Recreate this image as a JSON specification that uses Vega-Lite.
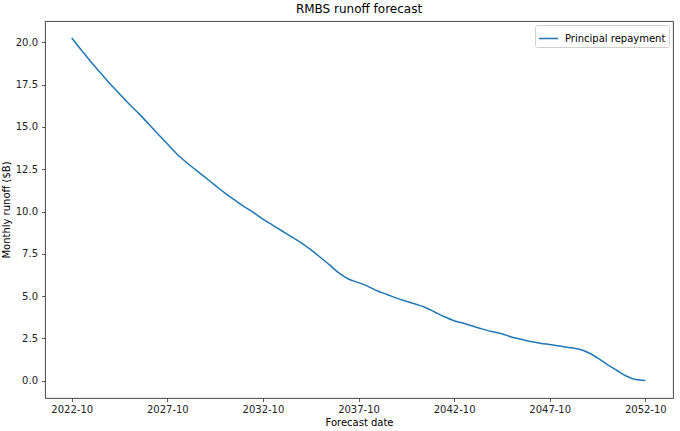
{
  "$schema": "https://vega.github.io/schema/vega-lite/v6.json",
  "width": 628,
  "height": 377,
  "autosize": {"type": "none"},
  "padding": {"left": 45, "top": 21, "right": 7, "bottom": 33},
  "background": "white",
  "title": {"text": "RMBS runoff forecast", "fontSize": 12, "fontWeight": "normal", "font": "DejaVu Sans", "color": "#000", "offset": 5},
  "config": {
    "view": {"stroke": "#333", "strokeWidth": 0.9},
    "axis": {
      "labelFont": "DejaVu Sans", "labelFontSize": 10, "labelColor": "#222",
      "titleFont": "DejaVu Sans", "titleFontSize": 10, "titleFontWeight": "normal", "titleColor": "#000",
      "grid": false, "domain": false, "tickColor": "#333", "tickWidth": 0.8, "tickSize": 3.5
    },
    "legend": {
      "labelFont": "DejaVu Sans", "labelFontSize": 10, "labelColor": "#000"
    }
  },
  "data": {
    "values": [
      {"date": "2022-10-01", "runoff": 20.25, "series": "Principal repayment"},
      {"date": "2023-04-01", "runoff": 19.55, "series": "Principal repayment"},
      {"date": "2023-10-01", "runoff": 18.85, "series": "Principal repayment"},
      {"date": "2024-04-01", "runoff": 18.2, "series": "Principal repayment"},
      {"date": "2024-10-01", "runoff": 17.55, "series": "Principal repayment"},
      {"date": "2025-04-01", "runoff": 16.95, "series": "Principal repayment"},
      {"date": "2025-10-01", "runoff": 16.35, "series": "Principal repayment"},
      {"date": "2026-04-01", "runoff": 15.8, "series": "Principal repayment"},
      {"date": "2026-10-01", "runoff": 15.2, "series": "Principal repayment"},
      {"date": "2027-04-01", "runoff": 14.6, "series": "Principal repayment"},
      {"date": "2027-10-01", "runoff": 14.0, "series": "Principal repayment"},
      {"date": "2028-04-01", "runoff": 13.4, "series": "Principal repayment"},
      {"date": "2028-10-01", "runoff": 12.9, "series": "Principal repayment"},
      {"date": "2029-04-01", "runoff": 12.45, "series": "Principal repayment"},
      {"date": "2029-10-01", "runoff": 12.0, "series": "Principal repayment"},
      {"date": "2030-04-01", "runoff": 11.55, "series": "Principal repayment"},
      {"date": "2030-10-01", "runoff": 11.1, "series": "Principal repayment"},
      {"date": "2031-04-01", "runoff": 10.7, "series": "Principal repayment"},
      {"date": "2031-10-01", "runoff": 10.3, "series": "Principal repayment"},
      {"date": "2032-04-01", "runoff": 9.95, "series": "Principal repayment"},
      {"date": "2032-10-01", "runoff": 9.55, "series": "Principal repayment"},
      {"date": "2033-04-01", "runoff": 9.2, "series": "Principal repayment"},
      {"date": "2033-10-01", "runoff": 8.85, "series": "Principal repayment"},
      {"date": "2034-04-01", "runoff": 8.5, "series": "Principal repayment"},
      {"date": "2034-10-01", "runoff": 8.15, "series": "Principal repayment"},
      {"date": "2035-04-01", "runoff": 7.75, "series": "Principal repayment"},
      {"date": "2035-10-01", "runoff": 7.3, "series": "Principal repayment"},
      {"date": "2036-04-01", "runoff": 6.83, "series": "Principal repayment"},
      {"date": "2036-10-01", "runoff": 6.34, "series": "Principal repayment"},
      {"date": "2037-04-01", "runoff": 6.0, "series": "Principal repayment"},
      {"date": "2037-10-01", "runoff": 5.8, "series": "Principal repayment"},
      {"date": "2038-04-01", "runoff": 5.58, "series": "Principal repayment"},
      {"date": "2038-10-01", "runoff": 5.3, "series": "Principal repayment"},
      {"date": "2039-04-01", "runoff": 5.1, "series": "Principal repayment"},
      {"date": "2039-10-01", "runoff": 4.88, "series": "Principal repayment"},
      {"date": "2040-04-01", "runoff": 4.7, "series": "Principal repayment"},
      {"date": "2040-10-01", "runoff": 4.52, "series": "Principal repayment"},
      {"date": "2041-04-01", "runoff": 4.33, "series": "Principal repayment"},
      {"date": "2041-10-01", "runoff": 4.05, "series": "Principal repayment"},
      {"date": "2042-04-01", "runoff": 3.78, "series": "Principal repayment"},
      {"date": "2042-10-01", "runoff": 3.55, "series": "Principal repayment"},
      {"date": "2043-04-01", "runoff": 3.4, "series": "Principal repayment"},
      {"date": "2043-10-01", "runoff": 3.22, "series": "Principal repayment"},
      {"date": "2044-04-01", "runoff": 3.05, "series": "Principal repayment"},
      {"date": "2044-10-01", "runoff": 2.9, "series": "Principal repayment"},
      {"date": "2045-04-01", "runoff": 2.78, "series": "Principal repayment"},
      {"date": "2045-10-01", "runoff": 2.58, "series": "Principal repayment"},
      {"date": "2046-04-01", "runoff": 2.45, "series": "Principal repayment"},
      {"date": "2046-10-01", "runoff": 2.32, "series": "Principal repayment"},
      {"date": "2047-04-01", "runoff": 2.22, "series": "Principal repayment"},
      {"date": "2047-10-01", "runoff": 2.14, "series": "Principal repayment"},
      {"date": "2048-04-01", "runoff": 2.06, "series": "Principal repayment"},
      {"date": "2048-10-01", "runoff": 1.97, "series": "Principal repayment"},
      {"date": "2049-04-01", "runoff": 1.87, "series": "Principal repayment"},
      {"date": "2049-10-01", "runoff": 1.67, "series": "Principal repayment"},
      {"date": "2050-04-01", "runoff": 1.35, "series": "Principal repayment"},
      {"date": "2050-10-01", "runoff": 0.97, "series": "Principal repayment"},
      {"date": "2051-04-01", "runoff": 0.62, "series": "Principal repayment"},
      {"date": "2051-10-01", "runoff": 0.28, "series": "Principal repayment"},
      {"date": "2052-04-01", "runoff": 0.07, "series": "Principal repayment"},
      {"date": "2052-10-01", "runoff": 0.02, "series": "Principal repayment"}
    ]
  },
  "mark": {"type": "line", "strokeWidth": 1.5, "interpolate": "monotone"},
  "encoding": {
    "x": {
      "field": "date", "type": "temporal", "title": "Forecast date",
      "scale": {"type": "utc", "domain": [{"year": 2021, "month": 5, "date": 8, "utc": true}, {"year": 2054, "month": 3, "date": 14, "utc": true}], "nice": false},
      "axis": {
        "values": [
          {"year": 2022, "month": 10, "date": 1, "utc": true},
          {"year": 2027, "month": 10, "date": 1, "utc": true},
          {"year": 2032, "month": 10, "date": 1, "utc": true},
          {"year": 2037, "month": 10, "date": 1, "utc": true},
          {"year": 2042, "month": 10, "date": 1, "utc": true},
          {"year": 2047, "month": 10, "date": 1, "utc": true},
          {"year": 2052, "month": 10, "date": 1, "utc": true}
        ],
        "labelExpr": "utcFormat(datum.value, '%Y-%m')", "labelPadding": 3, "titlePadding": 3, "labelFlush": false
      }
    },
    "y": {
      "field": "runoff", "type": "quantitative", "title": "Monthly runoff ($B)",
      "scale": {"domain": [-1.02, 21.26], "nice": false, "zero": false},
      "axis": {"values": [0, 2.5, 5, 7.5, 10, 12.5, 15, 17.5, 20], "format": ".1f", "labelPadding": 4, "titlePadding": 4}
    },
    "color": {
      "field": "series", "type": "nominal",
      "scale": {"range": ["#1f77b4"]},
      "legend": {
        "title": null, "orient": "top-right", "offset": 4, "symbolType": "stroke", "symbolSize": 360,
        "symbolStrokeWidth": 1.5, "strokeColor": "#d0d0d0", "fillColor": "white", "padding": 3, "cornerRadius": 2, "labelOffset": 6
      }
    }
  }
}
